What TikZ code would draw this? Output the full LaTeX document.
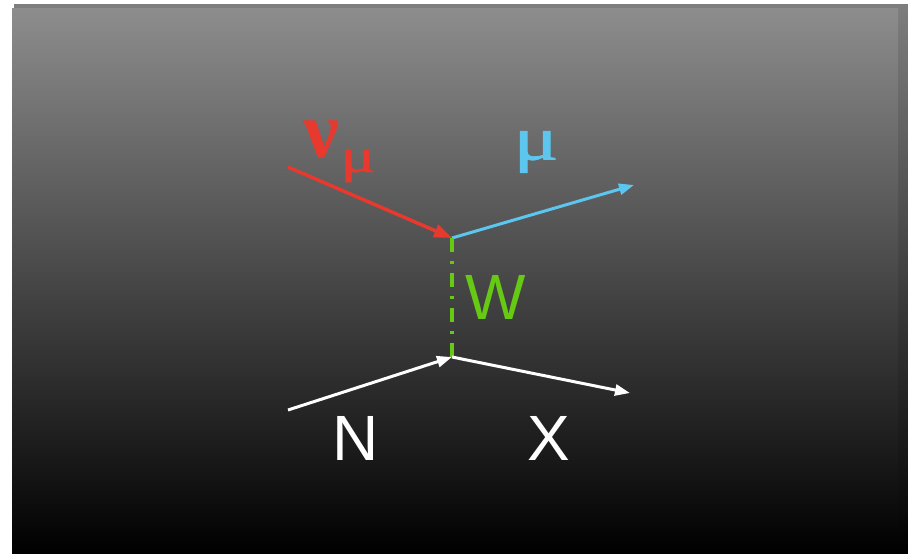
\documentclass[tikz,border=0pt]{standalone}
\usepackage{fontspec}
\setmainfont{Liberation Sans}
\newfontfamily\greekfont{Liberation Serif}
\newfontfamily\mufont[FakeBold=1.2]{Liberation Serif}
\usetikzlibrary{arrows.meta}
\definecolor{nured}{HTML}{E8392E}
\definecolor{mublue}{HTML}{5CC6EE}
\definecolor{wgreen}{HTML}{66C914}
\tikzset{
  prop/.style={line width=3pt,-{Triangle[length=15pt,width=11pt]}},
  lbl/.style={inner sep=0pt,font=\fontsize{64}{64}\selectfont},
  glbl/.style={inner sep=0pt}
}
\begin{document}
\begin{tikzpicture}[x=1pt,y=-1pt]
\useasboundingbox (0,0) rectangle (908,554);
\fill[white] (0,0) rectangle (908,554);
% shadow
\shade[top color={rgb,255:red,126;green,126;blue,126},bottom color=black] (14,4) rectangle (908,554);
% panel
\shade[top color={rgb,255:red,141;green,141;blue,141},bottom color=black] (12,8) rectangle (898,554);
% vertices and ends
\coordinate (v1) at (452,238);
\coordinate (v2) at (452,357);
\coordinate (nuin) at (288,167);
\coordinate (muout) at (634,185);
\coordinate (nin) at (288,410);
\coordinate (xout) at (630,393);
% lines
\draw[nured,line width=3.5pt,-{Triangle[length=18pt,width=13pt]}] (nuin) -- (v1);
\draw[prop,mublue] (v1) -- (muout);
\draw[wgreen,line width=3.5pt,dash pattern=on 14pt off 9pt on 3pt off 9pt] (v1) -- (v2);
\draw[prop,white] (nin) -- (v2);
\draw[prop,white] (v2) -- (xout);
% labels
\node[glbl,text=nured,font=\greekfont\bfseries\fontsize{80}{80}\selectfont] (nu) at (321,140) {ν};
\node[glbl,text=nured,xscale=1.35,font=\mufont\fontsize{48}{48}\selectfont] (nusub) at (358,166) {μ};
\node[glbl,text=mublue,xscale=1.35,font=\mufont\fontsize{62}{62}\selectfont] (mu) at (536,152) {μ};
\node[lbl,text=wgreen] (w) at (496,297) {W};
\node[lbl,text=white] (n) at (356,438) {N};
\node[lbl,text=white] (x) at (549,438) {X};
\end{tikzpicture}
\end{document}
